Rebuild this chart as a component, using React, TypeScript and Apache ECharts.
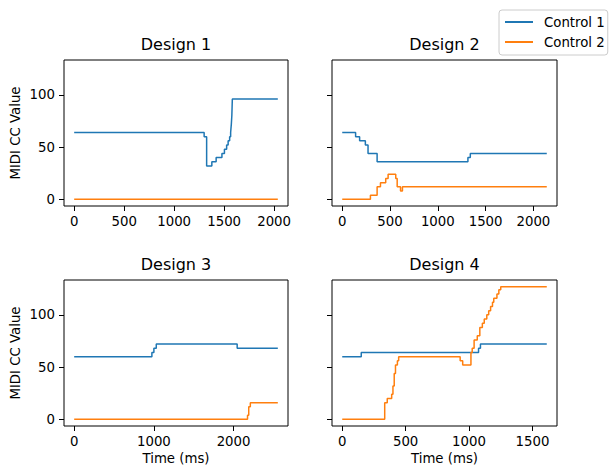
import React, { useEffect, useRef } from "react";
import * as echarts from "echarts";

const BLUE = "#1f77b4";
const ORANGE = "#ff7f0e";
const FONT = "DejaVu Sans";

const seriesNames = ["Control 1", "Control 2"];
const titles = ["Design 1", "Design 2", "Design 3", "Design 4"];
const yTicks = [0, 50, 100];
const yDataMax = 127;

// Design 1
const d1TimeC1 = [0, 1300, 1325, 1377, 1420, 1478, 1503, 1525, 1540, 1555, 1565, 1572, 1577, 1582, 2037];
const d1ValC1 = [64, 60, 32, 36, 40, 44, 48, 52, 56, 60, 64, 72, 80, 96, 96];
const d1TimeC2 = [0, 2037];
const d1ValC2 = [0, 0];
const d1Ticks = [0, 500, 1000, 1500, 2000];

// Design 2
const d2TimeC1 = [0, 140, 182, 242, 270, 365, 1315, 1340, 2140];
const d2ValC1 = [64, 60, 56, 52, 44, 36, 40, 44, 44];
const d2TimeC2 = [0, 295, 365, 400, 455, 480, 560, 575, 610, 630, 2140];
const d2ValC2 = [0, 4, 12, 16, 20, 24, 20, 12, 8, 12, 12];
const d2Ticks = [0, 500, 1000, 1500, 2000];

// Design 3
const d3TimeC1 = [0, 975, 1000, 1030, 2045, 2555];
const d3ValC1 = [60, 64, 68, 72, 68, 68];
const d3TimeC2 = [0, 2175, 2190, 2210, 2555];
const d3ValC2 = [0, 4, 12, 16, 16];
const d3Ticks = [0, 1000, 2000];

// Design 4
const d4TimeC1 = [0, 150, 1075, 1090, 1613];
const d4ValC1 = [60, 64, 68, 72, 72];
const d4TimeC2 = [0, 335, 355, 390, 400, 410, 420, 435, 445, 930, 950, 1015, 1025, 1040, 1065, 1085, 1105, 1120, 1140, 1155, 1170, 1185, 1195, 1220, 1235, 1250, 1613];
const d4ValC2 = [0, 16, 20, 24, 32, 44, 52, 56, 60, 56, 52, 64, 68, 76, 80, 88, 92, 96, 100, 104, 108, 112, 116, 120, 124, 127, 127];
const d4Ticks = [0, 500, 1000, 1500];

const zip = (t: number[], v: number[]) => t.map((x, i) => [x, v[i]]);

const designs = [
  { c1: zip(d1TimeC1, d1ValC1), c2: zip(d1TimeC2, d1ValC2), ticks: d1Ticks, tmax: d1TimeC1[d1TimeC1.length - 1] },
  { c1: zip(d2TimeC1, d2ValC1), c2: zip(d2TimeC2, d2ValC2), ticks: d2Ticks, tmax: d2TimeC1[d2TimeC1.length - 1] },
  { c1: zip(d3TimeC1, d3ValC1), c2: zip(d3TimeC2, d3ValC2), ticks: d3Ticks, tmax: d3TimeC1[d3TimeC1.length - 1] },
  { c1: zip(d4TimeC1, d4ValC1), c2: zip(d4TimeC2, d4ValC2), ticks: d4Ticks, tmax: d4TimeC1[d4TimeC1.length - 1] },
];

const gridBoxes = [
  { left: 64, top: 60, width: 224, height: 146 },
  { left: 332, top: 60, width: 225, height: 146 },
  { left: 64, top: 280, width: 224, height: 146 },
  { left: 332, top: 280, width: 225, height: 146 },
];

export default function App() {
  const ref = useRef<HTMLDivElement>(null);
  useEffect(() => {
    document.body.style.margin = "0";
    if (!ref.current) return;
    const chart = echarts.init(ref.current, undefined, { renderer: "svg" });
    const labelStyle = { color: "#000", fontSize: 13.3, fontFamily: FONT };
    const ymin = -0.05 * yDataMax;
    const ymax = yDataMax * 1.05;

    const option: any = {
      animation: false,
      backgroundColor: "#fff",
      title: titles.map((t, i) => ({
        text: t,
        left: gridBoxes[i].left + gridBoxes[i].width / 2,
        top: gridBoxes[i].top - 24,
        textAlign: "center",
        padding: 0,
        textStyle: { color: "#000", fontSize: 16, fontWeight: "normal", fontFamily: FONT },
      })),
      legend: {
        data: seriesNames,
        orient: "vertical",
        left: 499,
        top: 10,
        padding: [4, 3, 5, 6],
        itemGap: 4,
        itemWidth: 28,
        itemHeight: 2,
        icon: "rect",
        borderColor: "#cccccc",
        borderWidth: 1,
        borderRadius: 3,
        backgroundColor: "rgba(255,255,255,0.8)",
        textStyle: { ...labelStyle, lineHeight: 16, padding: [0, 0, 0, 6] },
      },
      grid: gridBoxes.map((g) => ({
        ...g,
        show: true,
        borderColor: "#000",
        borderWidth: 1,
        backgroundColor: "transparent",
        containLabel: false,
      })),
      xAxis: designs.map((d, i) => ({
        type: "value",
        gridIndex: i,
        min: -0.05 * d.tmax,
        max: d.tmax * 1.05,
        splitLine: { show: false },
        axisLine: { show: false, onZero: false },
        axisTick: { show: true, length: 5, lineStyle: { color: "#000" }, customValues: d.ticks },
        axisLabel: { ...labelStyle, margin: 9, customValues: d.ticks, formatter: (v: number) => String(v) },
        name: i >= 2 ? "Time (ms)" : "",
        nameLocation: "middle",
        nameGap: 26,
        nameTextStyle: labelStyle,
      })),
      yAxis: designs.map((d, i) => ({
        type: "value",
        gridIndex: i,
        min: ymin,
        max: ymax,
        splitLine: { show: false },
        axisLine: { show: false, onZero: false },
        axisTick: { show: true, length: 5, lineStyle: { color: "#000" }, customValues: yTicks },
        axisLabel: { ...labelStyle, show: i % 2 === 0, margin: 9, customValues: yTicks, formatter: (v: number) => String(v) },
        name: i % 2 === 0 ? "MIDI CC Value" : "",
        nameLocation: "middle",
        nameGap: 42,
        nameTextStyle: labelStyle,
      })),
      series: designs.flatMap((d, i) => [
        {
          name: seriesNames[0],
          type: "line",
          xAxisIndex: i,
          yAxisIndex: i,
          data: d.c1,
          step: "end",
          showSymbol: false,
          symbol: "none",
          lineStyle: { color: BLUE, width: 1.5 },
          itemStyle: { color: BLUE },
        },
        {
          name: seriesNames[1],
          type: "line",
          xAxisIndex: i,
          yAxisIndex: i,
          data: d.c2,
          step: "end",
          showSymbol: false,
          symbol: "none",
          lineStyle: { color: ORANGE, width: 1.5 },
          itemStyle: { color: ORANGE },
        },
      ]),
    };
    chart.setOption(option);
    return () => chart.dispose();
  }, []);
  return <div ref={ref} style={{ width: 609, height: 466 }} />;
}
